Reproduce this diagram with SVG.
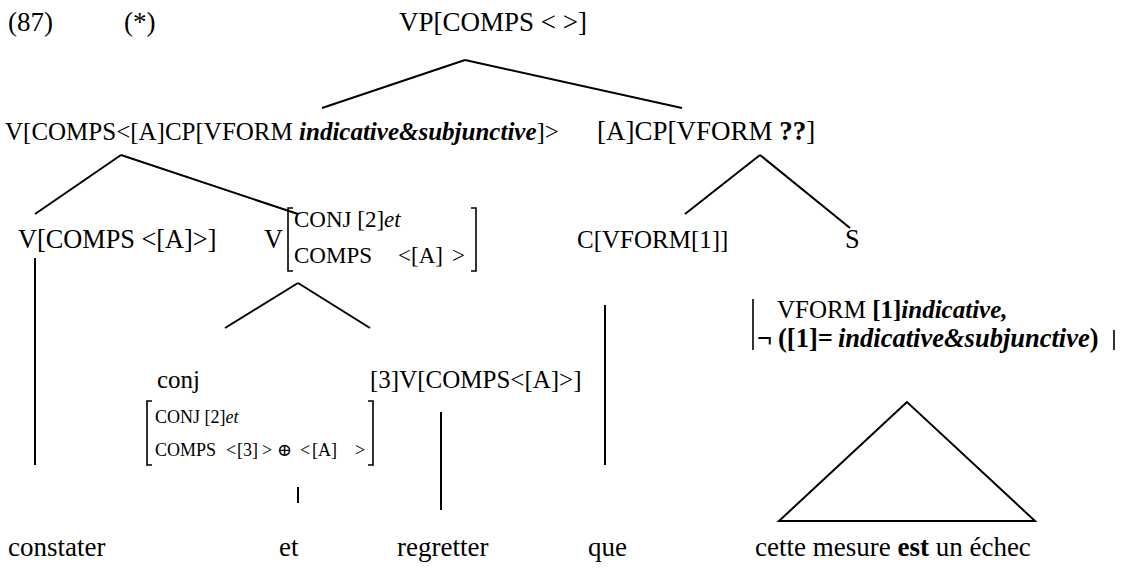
<svg xmlns="http://www.w3.org/2000/svg" width="1122" height="569" viewBox="0 0 1122 569" font-family="'Liberation Serif', Tinos, 'Times New Roman', 'DejaVu Serif', serif">
<style>
text{font-family:'Liberation Serif',Tinos,'Times New Roman','DejaVu Serif',serif;fill:#000}
.t{font-size:27px}
.m{font-size:25px}
.l{font-size:26.3px}
.w{font-size:27px}
.s{font-size:23px}
.xs{font-size:18px}
.bi{font-weight:bold;font-style:italic}
.b{font-weight:bold}
.i{font-style:italic}
line,path,polygon{stroke:#000;stroke-width:2;fill:none}
.br{stroke-width:1.6}
</style>
<rect width="1122" height="569" fill="#fff"/>
<g id="connectors">
<line x1="465" y1="60" x2="322" y2="108"/>
<line x1="465" y1="60" x2="682" y2="108"/>
<line x1="121" y1="155" x2="35" y2="214"/>
<line x1="121" y1="155" x2="298" y2="214"/>
<line x1="760" y1="155" x2="685" y2="214"/>
<line x1="760" y1="155" x2="850" y2="228"/>
<line x1="35" y1="258" x2="35" y2="465"/>
<line x1="298" y1="283" x2="225" y2="328"/>
<line x1="298" y1="283" x2="370" y2="328"/>
<line x1="605" y1="305" x2="605" y2="465"/>
<line x1="441" y1="412" x2="441" y2="510"/>
<line x1="298" y1="487" x2="298" y2="503"/>
</g>
<g id="label87"><text class="t" x="8" y="31">(87)</text></g>
<g id="star"><text class="t" x="124" y="31">(*)</text></g>
<g id="vp"><text class="t" x="399" y="31">VP[COMPS &lt; &gt;]</text></g>
<g id="v-top"><text class="m" x="5" y="140">V[COMPS&lt;[A]CP[VFORM <tspan class="bi">indicative&amp;subjunctive</tspan>]&gt;</text></g>
<g id="cp"><text class="t" x="597" y="140">[A]CP[VFORM <tspan class="b">??</tspan>]</text></g>
<g id="v-comps"><text class="l" x="18" y="248">V[COMPS &lt;[A]&gt;]</text></g>
<g id="v-conj">
<text class="l" x="264" y="248">V</text>
<path class="br" d="M293,208 H288 V271 H293"/>
<text class="s" x="294" y="227">CONJ [2]<tspan class="i">et</tspan></text>
<text class="s" x="294" y="263">COMPS<tspan x="398">&lt;[A]</tspan><tspan x="452">&gt;</tspan></text>
<path class="br" d="M471,208 H476 V271 H471"/>
</g>
<g id="c-vform"><text class="m" x="577" y="248">C[VFORM[1]]</text></g>
<g id="s"><text class="l" x="845" y="248">S</text>
<line class="br" x1="753" y1="299" x2="753" y2="350"/>
<line class="br" x1="1114" y1="330" x2="1114" y2="350"/>
<text class="m" x="777" y="318">VFORM <tspan class="b">[1]</tspan><tspan class="bi">indicative,</tspan></text>
<text style="font-size:26.5px" x="757" y="347"><tspan class="b">¬</tspan><tspan class="b" x="778">([1]=</tspan><tspan class="bi" x="838">indicative&amp;subjunctive</tspan><tspan class="b">)</tspan></text>
<polygon points="907,402 779,521 1035,521"/>
</g>
<g id="conj">
<text class="m" x="157" y="388">conj</text>
<path class="br" d="M152,401 H147 V465 H152"/>
<text class="xs" x="155" y="423">CONJ [2]<tspan class="i">et</tspan></text>
<text class="xs" x="155" y="456">COMPS<tspan x="226">&lt;</tspan><tspan x="237">[3]</tspan><tspan x="262">&gt;</tspan><tspan x="277">⊕</tspan><tspan x="300">&lt;</tspan><tspan x="312">[A]</tspan><tspan x="355">&gt;</tspan></text>
<path class="br" d="M368,401 H373 V465 H368"/>
</g>
<g id="v3"><text class="m" x="370" y="388">[3]V[COMPS&lt;[A]&gt;]</text></g>
<g id="words">
<text class="w" x="8" y="556">constater</text>
<text class="w" x="279" y="556">et</text>
<text class="w" x="397" y="556">regretter</text>
<text class="w" x="588" y="556">que</text>
<text class="w" x="755" y="556">cette mesure <tspan class="b">est</tspan> un échec</text>
</g>
</svg>
